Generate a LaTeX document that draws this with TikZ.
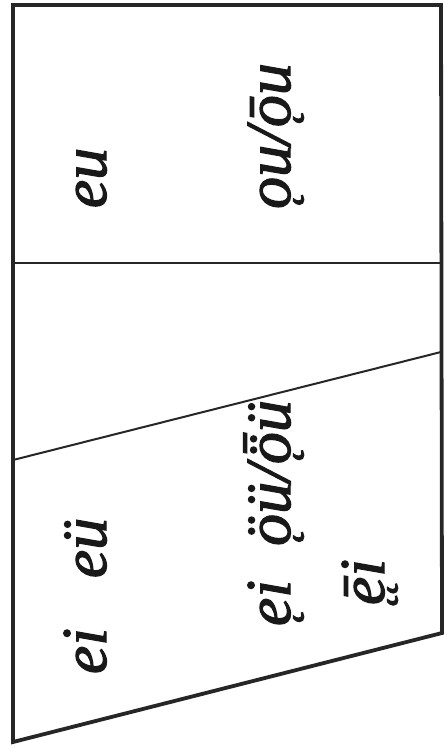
\documentclass[tikz,border=0pt]{standalone}
\usepackage{graphicx}
\usepackage{fontspec}
\setmainfont[ItalicFeatures={FakeBold=1.8}]{Liberation Serif}
\newcommand\hookmark{\raisebox{-0.06em}{\scalebox{0.8}{˛}}}
\newcommand\ogon[2]{\makebox[0pt][l]{\hspace{#1}\hookmark}#2}
\newcommand\dblogek{\makebox[0pt][l]{\hspace{-0.05em}\hookmark}\makebox[0pt][l]{\hspace{0.14em}\hookmark}ē}
\begin{document}
\begin{tikzpicture}[x=1pt,y=-1pt,
  frame/.style={line width=3.8pt,line join=miter,black!85},
  divider/.style={line width=2pt,black!85},
  vowel/.style={rotate=90,anchor=base,inner sep=0pt,font=\fontsize{64}{64}\itshape\selectfont,text=black!90}]
\useasboundingbox (0,0) rectangle (447,747);
% corners
\coordinate (tl) at (13,5);
\coordinate (tr) at (441,5);
\coordinate (br) at (442,633);
\coordinate (bl) at (13,742);
\draw[frame] (tl) -- (tr) -- (br) -- (bl) -- cycle;
% dividers
\coordinate (h1) at (13,263);
\coordinate (h2) at (441,263);
\coordinate (s1) at (13,460);
\coordinate (s2) at (441,352);
\draw[divider] (h1) -- (h2);
\draw[divider] (s1) -- (s2);
% vowels
\node[vowel] (eu) at (106,178) {eu};
\node[vowel] (ou) at (290,136) {\ogon{0.02em}{o}u/\ogon{0.02em}{ō}u};
\node[vowel] (eu2) at (106,548) {eü};
\node[vowel] (ei) at (106,651) {ei};
\node[vowel] (ouu) at (290,473) {\ogon{0.02em}{ö}ü/\ogon{0.02em}{ȫ}ü};
\node[vowel] (ei2) at (290,603) {\ogon{0.02em}{e}i};
\node[vowel] (ei3) at (384,582) {\dblogek i};
\end{tikzpicture}
\end{document}
